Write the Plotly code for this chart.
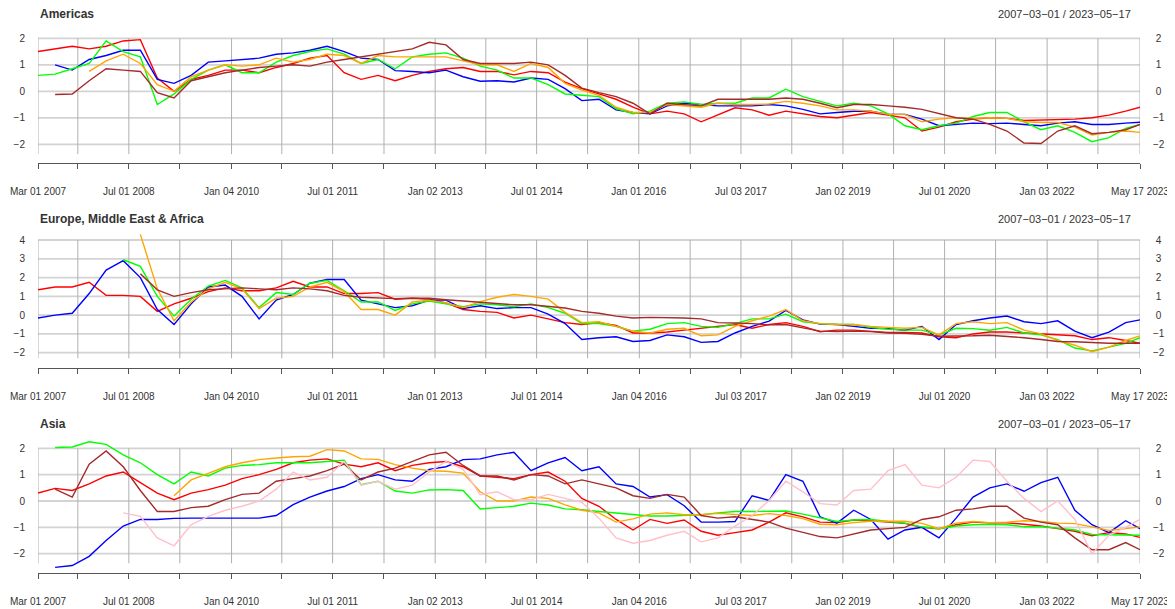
import plotly.graph_objects as go
import pandas as pd

# ---------------- sampling dates (quarterly + last day) ----------------
quarters = [f"{y}-{m:02d}-01" for y in range(2007, 2024) for m in (3, 6, 9, 12)]
dates = quarters[:65] + ["2023-05-17"]

N = None
# ---------------- Americas ----------------
am_red = [1.5, 1.6, 1.7, 1.6, 1.7, 1.9, 1.95, 0.5, 0.0, 0.45, 0.6, 0.8, 0.8, 0.7, 0.9, 1.05, 1.25, 1.35, 0.7, 0.45, 0.6, 0.4,
          0.6, 0.75, 0.85, 0.9, 0.75, 0.75, 0.62, 0.75, 0.7, 0.35, 0.1, -0.1, -0.3, -0.6, -0.85, -0.75, -0.85, -1.15, -0.9, -0.62, -0.7, -0.9,
          -0.75, -0.85, -0.95, -1.0, -0.9, -0.8, -0.9, -1.0, -1.5, -1.35, -1.15, -1.05, -1.0, -1.02, -1.1, -1.08, -1.05, -1.05, -1.0, -0.9, -0.75, -0.6]
am_blue = [N, 1.0, 0.8, 1.2, 1.35, 1.55, 1.55, 0.45, 0.3, 0.6, 1.1, 1.15, 1.2, 1.25, 1.4, 1.45, 1.55, 1.7, 1.5, 1.25, 1.2, 0.78,
           0.75, 0.7, 0.8, 0.55, 0.38, 0.4, 0.35, 0.5, 0.45, 0.1, -0.35, -0.3, -0.7, -0.8, -0.85, -0.55, -0.45, -0.5, -0.55, -0.55, -0.55, -0.5,
           -0.55, -0.68, -0.85, -0.8, -0.75, -0.75, -0.87, -0.87, -1.05, -1.3, -1.25, -1.2, -1.22, -1.2, -1.25, -1.3, -1.2, -1.15, -1.25, -1.25, -1.2, -1.17]
am_green = [0.6, 0.65, 0.85, 1.05, 1.9, 1.5, 1.3, -0.5, -0.1, 0.45, 0.8, 1.0, 0.7, 0.7, 1.1, 1.35, 1.5, 1.6, 1.4, 1.05, 1.2, 0.85,
            1.3, 1.4, 1.45, 1.25, 0.95, 0.8, 0.5, 0.5, 0.25, -0.1, -0.15, -0.2, -0.65, -0.85, -0.75, -0.45, -0.4, -0.5, -0.45, -0.45, -0.25, -0.25,
            0.08, -0.2, -0.38, -0.55, -0.45, -0.55, -0.85, -1.3, -1.45, -1.3, -1.2, -0.95, -0.8, -0.8, -1.15, -1.45, -1.3, -1.55, -1.9, -1.75, -1.4, -1.25]
am_orange = [N, N, N, 0.75, 1.15, 1.4, 1.05, 0.25, 0.0, 0.55, 0.8, 1.0, 0.95, 1.0, 1.25, 1.1, 1.2, 1.4, 1.35, 1.05, 1.35, 1.3,
             1.3, 1.3, 1.3, 1.15, 1.0, 1.0, 0.75, 1.05, 0.9, 0.3, 0.05, -0.15, -0.6, -0.8, -0.8, -0.5, -0.55, -0.6, -0.45, -0.5, -0.5, -0.48,
             -0.38, -0.45, -0.55, -0.7, -0.7, -0.75, -0.87, -0.87, -1.15, -1.05, -1.0, -1.02, -1.0, -1.02, -1.15, -1.18, -1.18, -1.35, -1.65, -1.55, -1.5, -1.55]
am_brown = [N, -0.12, -0.1, 0.4, 0.85, 0.8, 0.75, -0.05, -0.25, 0.4, 0.55, 0.7, 0.8, 0.9, 0.95, 1.0, 0.95, 1.1, 1.2, 1.3, 1.4, 1.5,
            1.6, 1.85, 1.75, 1.2, 1.05, 1.05, 1.05, 1.1, 1.0, 0.6, 0.12, -0.05, -0.2, -0.45, -0.85, -0.45, -0.5, -0.55, -0.3, -0.3, -0.3, -0.3,
            -0.25, -0.3, -0.45, -0.62, -0.5, -0.5, -0.55, -0.6, -0.68, -0.85, -1.0, -1.05, -1.25, -1.5, -1.95, -1.97, -1.5, -1.3, -1.6, -1.55, -1.45, -1.25]

# ---------------- Europe, Middle East & Africa ----------------
em_red = [1.35, 1.5, 1.5, 1.75, 1.05, 1.05, 1.0, 0.2, 0.6, 0.9, 1.25, 1.45, 1.3, 1.3, 1.45, 1.8, 1.5, 1.5, 1.15, 1.15, 1.2, 0.85,
          0.9, 0.85, 0.65, 0.3, 0.2, 0.15, -0.15, 0.0, -0.2, -0.4, -0.5, -0.4, -0.55, -0.95, -0.95, -0.9, -0.8, -0.7, -0.6, -0.5, -0.7, -0.5,
          -0.4, -0.6, -0.88, -0.8, -0.8, -0.85, -0.92, -0.92, -0.95, -1.15, -1.2, -1.0, -0.9, -0.9, -0.95, -1.0, -1.05, -1.1, -1.3, -1.2, -1.35, -1.5]
em_blue = [-0.15, 0.0, 0.1, 1.15, 2.4, 2.9, 2.0, 0.3, -0.5, 0.6, 1.5, 1.6, 1.0, -0.2, 0.8, 1.1, 1.7, 1.9, 1.9, 0.8, 0.6, 0.4,
           0.5, 0.8, 0.8, 0.35, 0.5, 0.35, 0.4, 0.4, 0.05, -0.45, -1.3, -1.2, -1.15, -1.4, -1.35, -1.05, -1.15, -1.45, -1.4, -0.95, -0.6, -0.32,
           0.25, -0.25, -0.48, -0.5, -0.6, -0.7, -0.72, -0.8, -0.6, -1.3, -0.5, -0.3, -0.15, -0.05, -0.35, -0.45, -0.3, -0.85, -1.2, -0.9, -0.4, -0.25]
em_green = [N, N, N, N, N, 2.95, 2.6, 1.0, -0.05, 0.85, 1.55, 1.85, 1.45, 0.4, 1.2, 1.1, 1.7, 1.85, 1.3, 0.7, 0.7, 0.25,
            0.6, 0.75, 0.6, 0.45, 0.6, 0.55, 0.45, 0.6, 0.4, 0.1, -0.45, -0.45, -0.6, -0.85, -0.75, -0.45, -0.4, -0.6, -0.65, -0.45, -0.2, -0.2,
            0.05, -0.35, -0.45, -0.5, -0.5, -0.65, -0.75, -0.8, -0.8, -1.05, -0.7, -0.72, -0.8, -0.65, -0.95, -1.05, -1.3, -1.75, -1.9, -1.7, -1.5, -1.2]
em_orange = [N, N, N, N, N, N, 4.3, 1.4, -0.3, 0.7, 1.4, 1.75, 1.4, 0.35, 0.9, 1.0, 1.5, 1.75, 1.25, 0.3, 0.3, 0.0,
             0.7, 0.8, 0.65, 0.4, 0.72, 0.95, 1.1, 1.0, 0.85, 0.15, -0.4, -0.35, -0.6, -0.85, -0.95, -0.75, -0.7, -1.1, -1.05, -0.6, -0.3, -0.05,
             0.3, -0.3, -0.45, -0.5, -0.5, -0.6, -0.65, -0.7, -0.65, -1.05, -0.45, -0.35, -0.45, -0.4, -0.8, -1.0, -1.35, -1.6, -1.95, -1.7, -1.35, -1.1]
em_brown = [N, N, N, N, N, N, 2.2, 1.35, 1.0, 1.2, 1.35, 1.4, 1.45, 1.4, 1.35, 1.45, 1.4, 1.3, 1.05, 0.95, 0.9, 0.88,
            0.9, 0.9, 0.82, 0.75, 0.72, 0.65, 0.55, 0.55, 0.45, 0.38, 0.2, 0.1, -0.05, -0.15, -0.12, -0.12, -0.15, -0.2, -0.4, -0.42, -0.45, -0.52,
            -0.5, -0.68, -0.85, -0.87, -0.85, -0.88, -0.95, -0.97, -1.02, -1.12, -1.12, -1.1, -1.07, -1.12, -1.2, -1.3, -1.4, -1.42, -1.47, -1.5, -1.5, -1.5]

# ---------------- Asia ----------------
as_red = [0.3, 0.48, 0.4, 0.65, 0.95, 1.1, 0.7, 0.3, 0.05, 0.3, 0.43, 0.6, 0.85, 1.0, 1.2, 1.45, 1.55, 1.6, 1.4, 1.3, 1.45, 1.15,
          1.35, 1.45, 1.5, 1.3, 0.95, 0.9, 0.85, 1.0, 1.1, 0.75, 0.1, -0.2, -0.7, -1.1, -0.7, -0.85, -0.72, -1.15, -1.3, -1.2, -1.1, -0.8,
          -0.45, -0.6, -0.8, -0.82, -0.72, -0.75, -0.8, -0.85, -1.0, -1.05, -0.9, -0.8, -0.83, -0.83, -0.88, -0.95, -1.05, -1.15, -1.32, -1.2, -1.25, -1.38]
as_blue = [N, -2.52, -2.45, -2.1, -1.5, -0.95, -0.7, -0.7, -0.66, -0.65, -0.65, -0.65, -0.65, -0.65, -0.55, -0.14, 0.15, 0.38, 0.55, 0.85, 1.0, 0.8,
           0.75, 1.2, 1.3, 1.57, 1.6, 1.75, 1.85, 1.15, 1.45, 1.65, 1.15, 1.3, 0.65, 0.55, 0.15, 0.24, -0.18, -0.8, -0.8, -0.78, 0.2, 0.02,
           1.0, 0.75, -0.6, -0.84, -0.35, -0.7, -1.45, -1.1, -1.0, -1.4, -0.65, 0.15, 0.5, 0.65, 0.37, 0.7, 0.9, -0.35, -0.9, -1.2, -0.75, -1.05]
as_green = [N, 2.03, 2.05, 2.25, 2.15, 1.75, 1.45, 1.0, 0.65, 1.1, 0.95, 1.25, 1.35, 1.38, 1.45, 1.45, 1.45, 1.5, 1.55, 0.62, 0.75, 0.38,
            0.3, 0.42, 0.43, 0.4, -0.3, -0.25, -0.2, -0.08, -0.15, -0.3, -0.33, -0.4, -0.45, -0.52, -0.57, -0.57, -0.55, -0.52, -0.45, -0.4, -0.4, -0.38,
            -0.38, -0.5, -0.65, -0.78, -0.72, -0.7, -0.78, -0.84, -0.98, -1.05, -0.95, -0.9, -0.88, -0.9, -0.98, -0.98, -1.03, -1.1, -1.27, -1.28, -1.28, -1.3]
as_orange = [N, N, N, N, N, N, N, N, 0.2, 0.8, 1.05, 1.3, 1.45, 1.57, 1.63, 1.68, 1.7, 1.95, 1.9, 1.6, 1.58, 1.38,
             1.25, 1.15, 1.13, 1.06, 0.35, 0.0, 0.0, 0.15, 0.1, -0.15, -0.35, -0.45, -0.8, -0.68, -0.5, -0.45, -0.52, -0.52, -0.47, -0.52, -0.55, -0.48,
             -0.55, -0.67, -0.88, -0.9, -0.82, -0.77, -0.77, -0.77, -0.85, -1.05, -0.84, -0.78, -0.82, -0.8, -0.75, -0.78, -0.84, -0.86, -0.98, -1.12, -1.05, -0.98]
as_brown = [N, 0.45, 0.15, 1.4, 1.9, 1.3, 0.4, -0.4, -0.4, -0.25, -0.2, 0.05, 0.25, 0.3, 0.75, 0.85, 0.95, 1.15, 1.4, 0.8, 1.1, 1.25,
            1.5, 1.75, 1.85, 1.35, 0.95, 0.95, 0.8, 1.0, 0.95, 0.65, 0.8, 0.65, 0.5, 0.2, 0.1, 0.25, 0.15, -0.55, -0.65, -0.6, -0.7, -0.8,
            -1.03, -1.2, -1.35, -1.4, -1.25, -1.1, -1.05, -1.0, -0.7, -0.6, -0.35, -0.3, -0.2, -0.2, -0.65, -0.8, -0.9, -1.4, -1.85, -1.85, -1.58, -1.85]
as_pink = [N, N, N, N, N, -0.45, -0.58, -1.4, -1.7, -0.9, -0.58, -0.35, -0.2, 0.0, 0.45, 1.1, 0.8, 0.9, 1.5, 0.6, 0.75, 0.45,
           0.6, 1.1, 1.5, 1.2, 0.24, 0.35, 0.05, 0.05, 0.25, 0.1, -0.05, -0.65, -1.4, -1.6, -1.5, -1.3, -1.15, -1.55, -1.4, -0.95, -0.55, 0.02,
           0.75, 0.35, -0.1, -0.15, 0.4, 0.45, 1.15, 1.38, 0.6, 0.5, 0.9, 1.55, 1.5, 0.75, 0.1, -0.4, 0.0, -0.7, -2.0, -1.3, -1.0, -0.7]

# ---------------- axis labels ----------------
labels_p1 = ["Mar 01 2007", "Jul 01 2008", "Jan 04 2010", "Jul 01 2011", "Jan 02 2013", "Jul 01 2014",
             "Jan 01 2016", "Jul 03 2017", "Jan 02 2019", "Jul 01 2020", "Jan 03 2022", "May 17 2023"]
labels_p2 = ["Mar 01 2007", "Jul 01 2008", "Jan 04 2010", "Jul 01 2011", "Jan 01 2013", "Jul 01 2014",
             "Jan 04 2016", "Jul 03 2017", "Jan 02 2019", "Jul 01 2020", "Jan 03 2022", "May 17 2023"]
labels_p3 = ["Mar 01 2007", "Jul 01 2008", "Jan 04 2010", "Jul 01 2011", "Jan 02 2013", "Jul 01 2014",
             "Jan 04 2016", "Jul 03 2017", "Jan 02 2019", "Jul 01 2020", "Jan 03 2022", "May 17 2023"]
minor_ticks = ["2007-10-01", "2009-04-01", "2010-10-01", "2012-04-02", "2013-10-01", "2015-04-01",
               "2016-10-03", "2018-04-02", "2019-10-01", "2021-04-01", "2022-10-03"]
titles = ["Americas", "Europe, Middle East & Africa", "Asia"]
range_text = "2007\u221203\u221201 / 2023\u221205\u221217"
colors = {"red": "#FF0000", "blue": "#0000FF", "green": "#00FF00",
          "orange": "#FFA500", "brown": "#A52A2A", "pink": "#FFC0CB"}

# The page body has an 8px margin, so the figure is laid out in window pixels minus 8.
OFF = 8
W, H = 1175 - OFF, 609 - OFF
FONT = "Liberation Sans, Arial, Helvetica, sans-serif"
TXT = "#333333"
X0, X1 = 38 - OFF, 1140 - OFF
xdom = [X0 / W, X1 / W]

def fy(px):
    return 1 - (px - OFF) / H

panels = [
    dict(series=[("red", am_red), ("blue", am_blue), ("green", am_green), ("orange", am_orange), ("brown", am_brown)],
         labels=labels_p1, yr=[-2.717, 2.351], px=[29, 163.3], grid=[-2, -1, 0, 1, 2], gb=-2.37, gt=2, title_y=14.5),
    dict(series=[("red", em_red), ("blue", em_blue), ("green", em_green), ("orange", em_orange), ("brown", em_brown)],
         labels=labels_p2, yr=[-2.83, 4.586], px=[229, 368.3], grid=[-2, -1, 0, 1, 2, 3, 4], gb=-2.3, gt=4, title_y=218.7),
    dict(series=[("red", as_red), ("blue", as_blue), ("green", as_green), ("orange", as_orange), ("brown", as_brown), ("pink", as_pink)],
         labels=labels_p3, yr=[-2.744, 2.467], px=[436, 573.3], grid=[-2, -1, 0, 1, 2], gb=-2.364, gt=2, title_y=424),
]

def fmt(v):
    return ("\u2212" + str(abs(v))) if v < 0 else str(v)

fig = go.Figure()
layout = dict(width=W, height=H, margin=dict(l=0, r=0, t=0, b=0, autoexpand=False), paper_bgcolor="white",
              plot_bgcolor="white", showlegend=False, font=dict(family=FONT, color=TXT, size=10))
shapes, annotations = [], []

for i, p in enumerate(panels):
    n = i + 1
    xs = "x" if n == 1 else f"x{n}"
    ys = "y" if n == 1 else f"y{n}"
    yr_name = f"y{n + 3}"
    for cname, vals in p["series"]:
        fig.add_trace(go.Scatter(x=dates, y=vals, mode="lines", xaxis=xs, yaxis=ys,
                                 line=dict(color=colors[cname], width=1.4), hoverinfo="skip"))
    major = [pd.to_datetime(s, format="%b %d %Y").strftime("%Y-%m-%d") for s in p["labels"]]
    ticks = sorted([(d, lab) for d, lab in zip(major, p["labels"])] + [(d, "") for d in minor_ticks])
    tv = [t[0] for t in ticks]
    tt = [t[1] for t in ticks]
    ydom = [fy(p["px"][1]), fy(p["px"][0])]
    layout["xaxis" if n == 1 else f"xaxis{n}"] = dict(
        domain=xdom, anchor=ys, type="date", range=[dates[0], dates[-1]], automargin=False,
        tickvals=tv, ticktext=tt, ticks="outside", ticklen=5, tickwidth=1, tickcolor="#555555",
        showline=True, linecolor="#555555", linewidth=1, showgrid=False, zeroline=False,
        tickfont=dict(size=10, color=TXT), ticklabelstandoff=14)
    layout["yaxis" if n == 1 else f"yaxis{n}"] = dict(
        domain=ydom, anchor=xs, range=p["yr"], tickvals=p["grid"], ticktext=[fmt(v) for v in p["grid"]],
        ticks="", showgrid=False, zeroline=False, showline=False, tickfont=dict(size=10, color=TXT),
        ticklabelstandoff=12, automargin=False)
    layout[f"yaxis{n + 3}"] = dict(
        domain=ydom, anchor=xs, overlaying=ys, side="right", range=p["yr"], tickvals=p["grid"],
        ticktext=[fmt(v) if v < 0 else "\u2008" + fmt(v) for v in p["grid"]],
        ticks="", showgrid=False, zeroline=False, showline=False, tickfont=dict(size=10, color=TXT),
        ticklabelstandoff=12, automargin=False)
    # an invisible trace so the right-hand axis is drawn
    fig.add_trace(go.Scatter(x=[dates[0]], y=[p["grid"][0]], mode="lines", xaxis=xs, yaxis=yr_name,
                             line=dict(width=0), hoverinfo="skip", showlegend=False))
    for g in p["grid"]:
        shapes.append(dict(type="line", xref=xs, yref=ys, x0=dates[0], x1=dates[-1], y0=g, y1=g,
                           line=dict(color="#D3D3D3", width=1.8), layer="below"))
    for d in tv:
        shapes.append(dict(type="line", xref=xs, yref=ys, x0=d, x1=d, y0=p["gb"], y1=p["gt"],
                           line=dict(color="#B0B0B0", width=1), layer="below"))
    annotations.append(dict(text="<b>" + titles[i] + "</b>", x=X0 / W, y=fy(p["title_y"]),
                            xref="paper", yref="paper", xanchor="left", yanchor="middle",
                            showarrow=False, font=dict(size=12, color=TXT, family=FONT)))
    annotations.append(dict(text=range_text, x=(1133 - OFF) / W, y=fy(p["title_y"]),
                            xref="paper", yref="paper", xanchor="right", yanchor="middle",
                            showarrow=False, font=dict(size=11, color=TXT, family=FONT)))

layout["shapes"] = shapes
layout["annotations"] = annotations
fig.update_layout(**layout)
fig.write_html("out.html")
